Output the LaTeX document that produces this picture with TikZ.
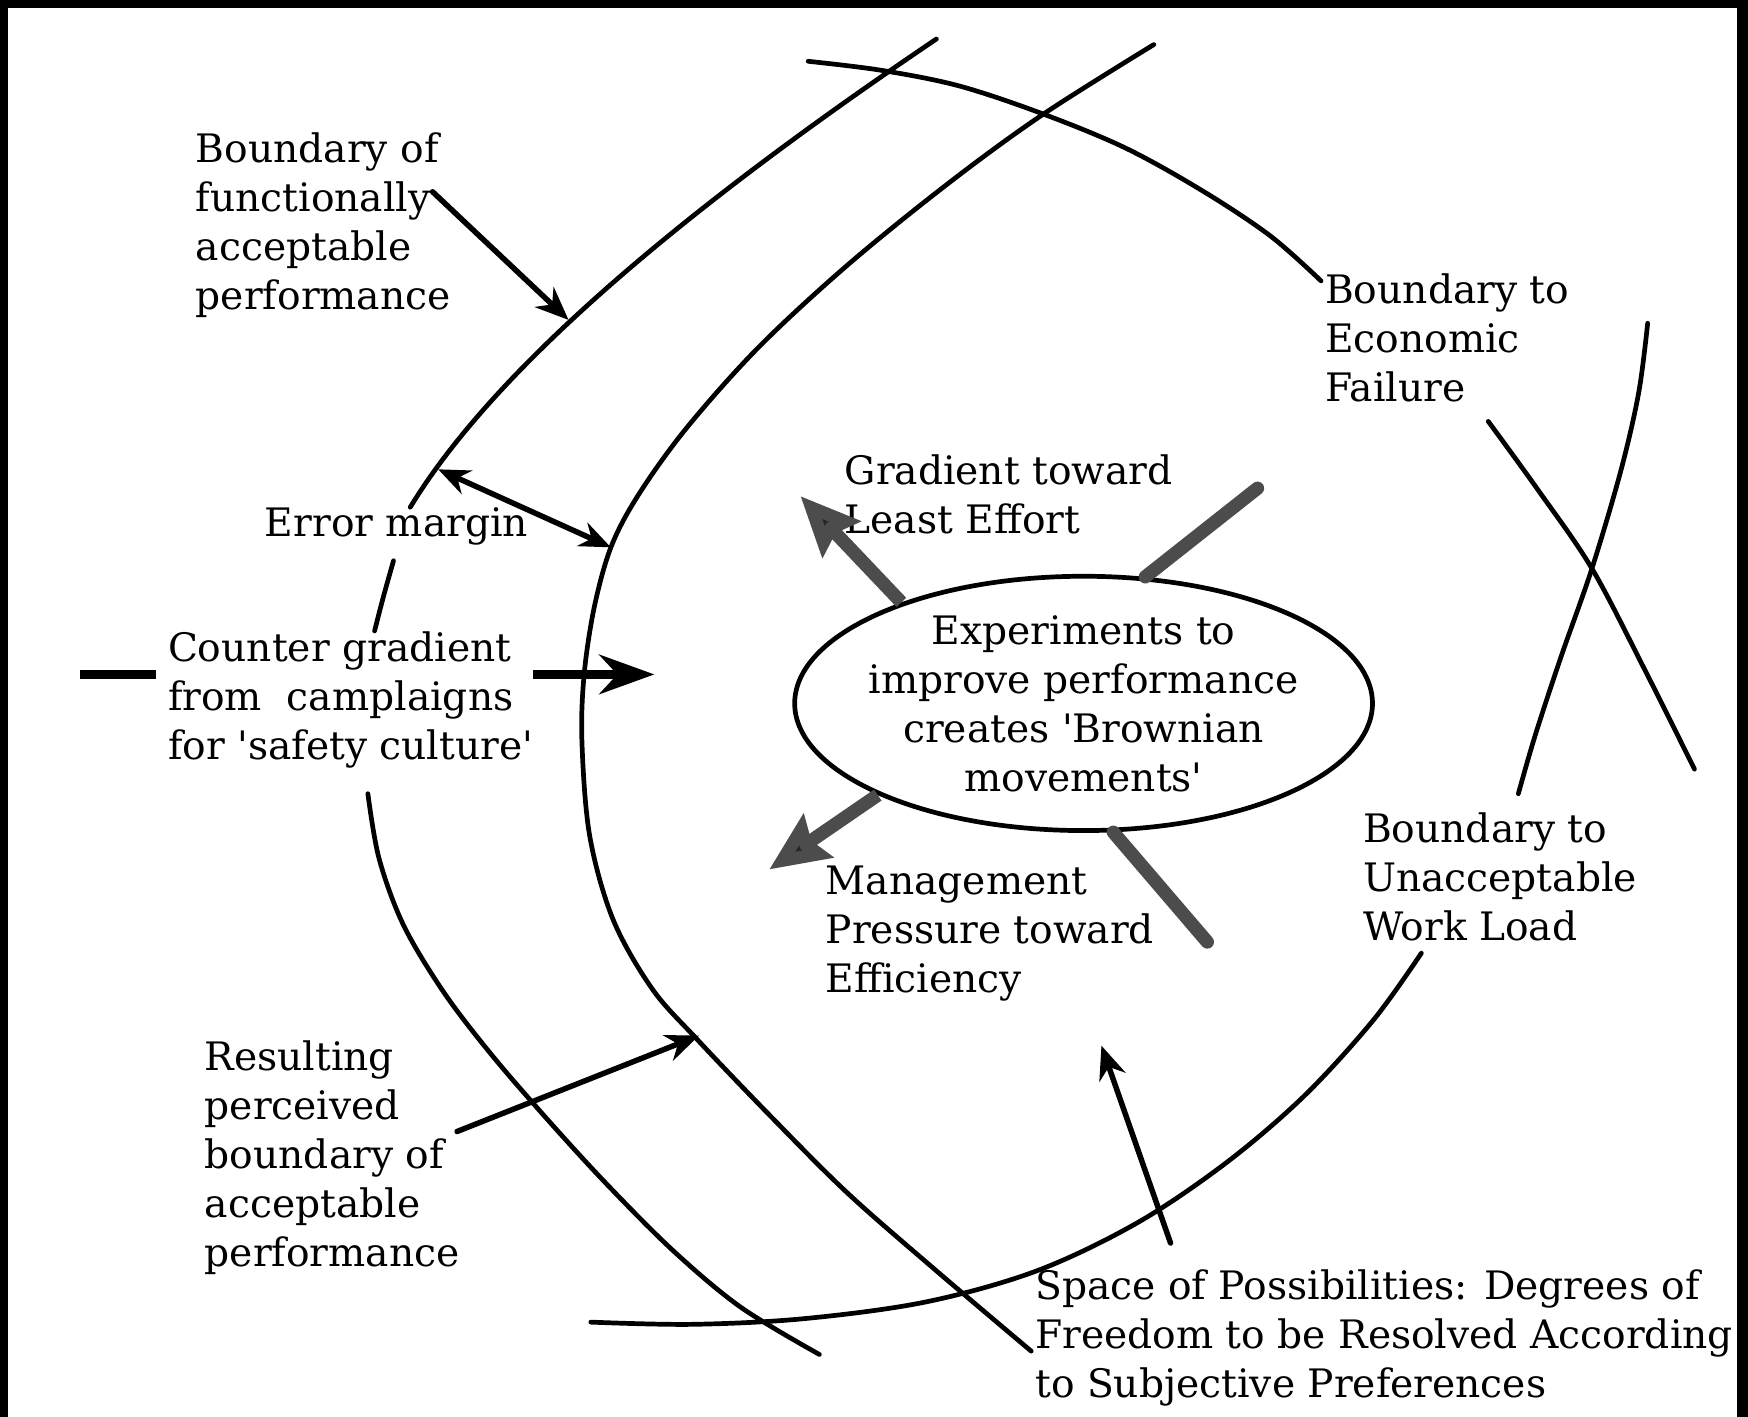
\documentclass[tikz,border=0pt]{standalone}
\usepackage{fontspec}
\setmainfont{DejaVu Serif}
\usetikzlibrary{arrows.meta,shapes.geometric}
\begin{document}
\begin{tikzpicture}[x=0.01cm,y=-0.01cm,
  bound/.style={line width=1.2pt, line cap=round, line join=round},
  lbl/.style={anchor=north west, align=left, inner sep=0pt,
    font=\fontsize{10}{12.5}\selectfont},
  pointer/.style={line width=1.4pt, line cap=round,
    -{Stealth[length=8.5pt,width=7pt]}},
  twoway/.style={line width=1.4pt,
    {Stealth[length=8pt,width=6.5pt]}-{Stealth[length=8pt,width=6.5pt]}},
  push/.style={line width=3.4pt, draw=black!70,
    -{Stealth[length=15pt,width=13pt,inset=2pt,fill=black!85]}},
  drift/.style={line width=3.4pt, draw=black!70, line cap=round},
]
% frame and page
\useasboundingbox (0,0) rectangle (1568,1271);
\fill[white] (0,0) rectangle (1568,1271);
\fill[black] (0,0) rectangle (1568,7);
\fill[black] (0,0) rectangle (7,1271);
\fill[black] (1558,0) rectangle (1568,1271);

% boundary of functionally acceptable performance
\draw[bound] (840,35) .. controls (640,170) and (450,320) .. (368,455);
\draw[bound] plot[smooth,tension=0.55] coordinates {(353,503) (344,535) (336,566)};
\draw[bound] plot[smooth,tension=0.55] coordinates {(330,712) (340,770) (362,830) (398,890) (440,945) (490,1003) (545,1063) (605,1123) (665,1173) (735,1215)};

% perceived boundary of acceptable performance
\draw[bound] plot[smooth,tension=0.55] coordinates {(1035,40) (935,103) (850,165) (760,238) (680,312) (615,385) (572,445) (548,491) (533,545) (524,605) (522,665) (529,750) (550,825) (585,887) (625,932) (690,1000) (760,1070) (840,1140) (925,1212)};

% boundary to economic failure
\draw[bound] plot[smooth,tension=0.55] coordinates {(725,55) (790,63) (860,77) (935,102) (1010,133) (1080,172) (1140,212) (1185,252)};
\draw[bound] plot[smooth,tension=0.55] coordinates {(1335,378) (1380,440) (1428,510) (1475,600) (1520,690)};

% boundary to unacceptable work load
\draw[bound] plot[smooth,tension=0.55] coordinates {(1478,290) (1470,352) (1454,422) (1428,510) (1400,590) (1377,660) (1362,712)};
\draw[bound] plot[smooth,tension=0.55] coordinates {(1275,855) (1232,915) (1170,983) (1100,1043) (1020,1097) (930,1140) (830,1168) (720,1183) (620,1188) (530,1186)};

% central ellipse
\node[ellipse, draw, line width=1.2pt, minimum width=5.18cm, minimum height=2.28cm,
  inner xsep=-3pt, inner ysep=0pt, align=center, font=\fontsize{10}{12.5}\selectfont] (exp) at (972,631)
  {Experiments to\\improve performance\\creates \textquotesingle Brownian\\movements\textquotesingle};

% labels
\node[lbl] (fun) at (175,118) {Boundary of\\functionally\\acceptable\\performance};
\node[lbl] (err) at (237,455) {Error margin};
\node[lbl] (cnt) at (150,566) {Counter gradient\\from\ \ camplaigns\\for \textquotesingle safety culture\textquotesingle};
\node[lbl] (grad) at (757,407) {Gradient toward\\Least Effort};
\node[lbl] (mgmt) at (740,776) {Management\\Pressure toward\\Efficiency};
\node[lbl] (econ) at (1188,245) {Boundary to\\Economic\\Failure};
\node[lbl] (work) at (1222,728) {Boundary to\\Unacceptable\\Work Load};
\node[lbl] (res) at (183,933) {Resulting\\perceived\\boundary of\\acceptable\\performance};
\node[lbl] (spc) at (928,1138) {Space of Possibilities: Degrees of\\Freedom to be Resolved According\\to Subjective Preferences};

% arrow end points
\coordinate (funS) at (388,172);
\coordinate (funT) at (510,287);
\coordinate (errA) at (393,421);
\coordinate (errB) at (548,491);
\coordinate (cntL1) at (72,605);
\coordinate (cntL2) at (140,605);
\coordinate (cntS) at (478,605);
\coordinate (cntT) at (587,605);
\coordinate (resS) at (410,1015);
\coordinate (resT) at (627,929);
\coordinate (spcS) at (1050,1115);
\coordinate (spcT) at (988,938);
\coordinate (leT) at (718,445);
\coordinate (urT) at (1128,438);
\coordinate (effT) at (690,780);
\coordinate (drT) at (1083,845);

% pointers
\draw[pointer] (funS) -- (funT);
\draw[twoway] (errA) -- (errB);
\draw[line width=2.2pt] (cntL1) -- (cntL2);
\draw[line width=2.4pt, -{Stealth[length=14pt,width=10pt]}] (cntS) -- (cntT);
\draw[pointer] (resS) -- (resT);
\draw[pointer] (spcS) -- (spcT);

% gradients acting on the experiments
\draw[push] (exp.151) -- (leT);
\draw[drift] (exp.64) -- (urT);
\draw[push] (exp.204) -- (effT);
\draw[drift] (exp.283) -- (drT);
\end{tikzpicture}
\end{document}
